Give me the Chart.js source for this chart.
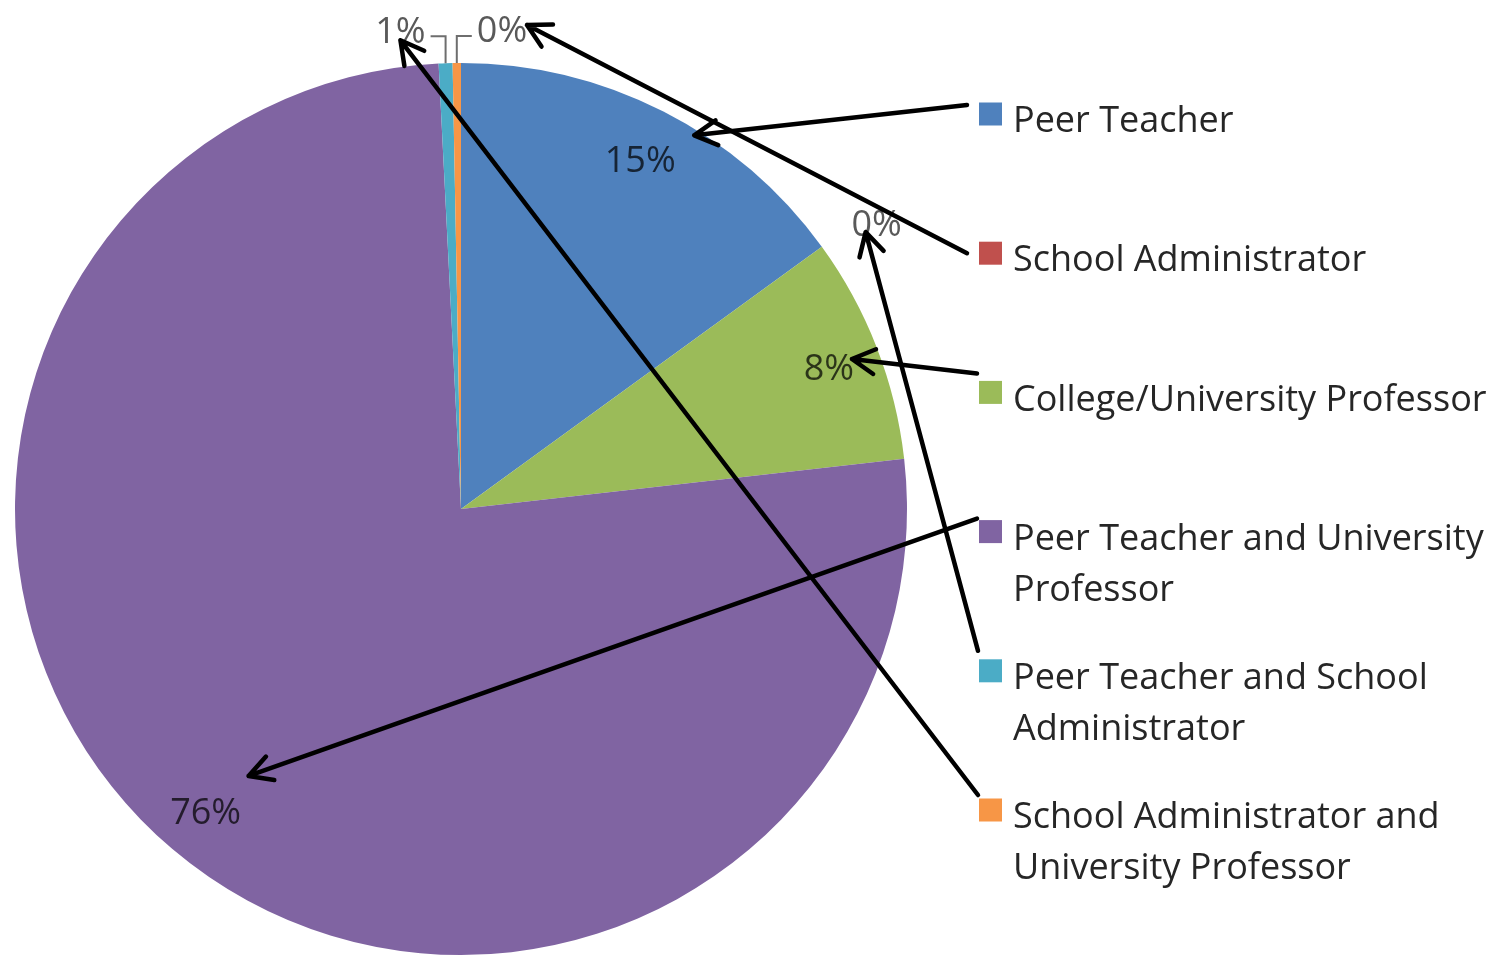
<!DOCTYPE html>
<html>
<head>
<meta charset="utf-8">
<script src="https://cdn.jsdelivr.net/npm/chart.js@4.4.1/dist/chart.umd.min.js"></script>
<style>
  html, body { margin: 0; padding: 0; background: #fff; overflow: hidden; }
  canvas { display: block; }
</style>
</head>
<body>
<canvas id="mentorChart" width="1510" height="956"></canvas>
<script>
// who supported the respondents (share of answers, in %)
const categories = [
  'Peer Teacher',
  'School Administrator',
  'College/University Professor',
  'Peer Teacher and University Professor',
  'Peer Teacher and School Administrator',
  'School Administrator and University Professor'
];
const shares = [15.0, 0, 8.2, 76.0, 0.5, 0.3];
const sliceColors = ['#4F81BD', '#C0504D', '#9BBB59', '#8064A2', '#4BACC6', '#F79646'];

// black pointers drawn over the chart: legend entry -> slice label
// tail = offset from the legend square, tip = offset from the label centre
const pointers = [
  { from: 0, to: 0, tail: [-12, -9],  tip: [54, -22] },
  { from: 1, to: 5, tail: [-12, 0],   tip: [25, -3] },
  { from: 2, to: 2, tail: [-2, -19],  tip: [23, -7] },
  { from: 3, to: 3, tail: [-2, -13],  tip: [43, -34] },
  { from: 4, to: 1, tail: [-1, -20],  tip: [-11, 10] },
  { from: 5, to: 4, tail: [-1, -15],  tip: [0, 12] }
];

const FONT = '36px "Open Sans", "Noto Sans", sans-serif';
const TEXT_DY = 4; // 'middle' sits a little high for this font

function wrapWords(ctx, text, maxWidth) {
  const words = text.split(' ');
  const lines = [];
  let line = '';
  words.forEach(w => {
    const test = line ? line + ' ' + w : w;
    if (line && ctx.measureText(test).width > maxWidth) {
      lines.push(line);
      line = w;
    } else {
      line = test;
    }
  });
  lines.push(line);
  return lines;
}

function drawArrow(ctx, x1, y1, x2, y2) {
  const ang = Math.atan2(y2 - y1, x2 - x1);
  const head = 26, spread = 0.5;
  ctx.beginPath();
  ctx.moveTo(x1, y1);
  ctx.lineTo(x2, y2);
  ctx.moveTo(x2 - head * Math.cos(ang - spread), y2 - head * Math.sin(ang - spread));
  ctx.lineTo(x2, y2);
  ctx.lineTo(x2 - head * Math.cos(ang + spread), y2 - head * Math.sin(ang + spread));
  ctx.stroke();
}

// percent labels, legend on the right and the pointers
const overlayPlugin = {
  id: 'overlay',
  afterDatasetsDraw(chart) {
    const ctx = chart.ctx;
    const meta = chart.getDatasetMeta(0);
    const labelCenters = [];
    let topCount = 0;

    ctx.save();
    ctx.font = FONT;
    ctx.textBaseline = 'middle';

    meta.data.forEach((arc, i) => {
      const { x, y, startAngle, endAngle, outerRadius } =
        arc.getProps(['x', 'y', 'startAngle', 'endAngle', 'outerRadius'], true);
      const mid = (startAngle + endAngle) / 2;
      const text = Math.round(shares[i]) + '%';
      const w = ctx.measureText(text).width;
      const cos = Math.cos(mid), sin = Math.sin(mid);

      if (shares[i] >= 2) {
        // inside the slice
        const r = outerRadius * 0.885;
        const cx = x + r * cos, cy = y + r * sin;
        ctx.fillStyle = 'rgba(0,0,0,0.72)';
        ctx.textAlign = 'center';
        ctx.fillText(text, cx, cy + TEXT_DY);
        labelCenters[i] = [cx, cy];
      } else if (Math.abs(cos) < 0.1) {
        // thin slices at the top: elbow leader, labels pushed to either side
        const side = topCount === 0 ? -1 : 1;
        topCount++;
        const ax = x + outerRadius * cos, ay = y + outerRadius * sin;
        const ly = ay - 27;
        ctx.strokeStyle = '#6e6e6e';
        ctx.lineWidth = 2;
        ctx.beginPath();
        ctx.moveTo(ax, ay);
        ctx.lineTo(ax, ly);
        ctx.lineTo(ax + side * 15, ly);
        ctx.stroke();
        const cx = ax + side * (15 + 5 + w / 2), cy = ay - 35;
        ctx.fillStyle = '#595959';
        ctx.textAlign = 'center';
        ctx.fillText(text, cx, cy + TEXT_DY);
        labelCenters[i] = [cx, cy];
      } else {
        // empty slice elsewhere: label just outside the rim
        const r = outerRadius * 1.06;
        const px = x + r * cos, py = y + r * sin;
        const cx = px + Math.sign(cos) * (8 + w / 2), cy = py - 9;
        ctx.fillStyle = '#595959';
        ctx.textAlign = 'center';
        ctx.fillText(text, cx, cy + TEXT_DY);
        labelCenters[i] = [cx, cy];
      }
    });

    // legend
    const area = chart.chartArea;
    const boxX = area.right + 72, box = 23, firstY = 114, step = 139.2, lineH = 51;
    const textX = boxX + 34, maxW = chart.width - textX - 6;
    const boxes = [];
    ctx.textAlign = 'left';
    categories.forEach((name, i) => {
      const by = firstY + i * step;
      ctx.fillStyle = sliceColors[i];
      ctx.fillRect(boxX, by - box / 2, box, box);
      ctx.fillStyle = '#262626';
      wrapWords(ctx, name, maxW).forEach((line, k) => {
        ctx.fillText(line, textX, by + 4 + TEXT_DY + k * lineH);
      });
      boxes[i] = [boxX, by];
    });

    // pointers
    ctx.strokeStyle = '#000';
    ctx.lineWidth = 4.5;
    ctx.lineCap = 'round';
    ctx.lineJoin = 'round';
    pointers.forEach(p => {
      const [bx, by] = boxes[p.from];
      const [lx, ly] = labelCenters[p.to];
      drawArrow(ctx, bx + p.tail[0], by + p.tail[1], lx + p.tip[0], ly + p.tip[1]);
    });
    ctx.restore();
  }
};

new Chart(document.getElementById('mentorChart'), {
  type: 'pie',
  data: {
    labels: categories,
    datasets: [{
      data: shares,
      backgroundColor: sliceColors,
      borderWidth: 0,
      hoverOffset: 0,
      offset: 0
    }]
  },
  options: {
    responsive: false,
    animation: false,
    radius: 446,
    layout: { padding: { left: 15, right: 603, top: 63, bottom: 1 } },
    plugins: {
      legend: { display: false },
      tooltip: { enabled: false }
    }
  },
  plugins: [overlayPlugin]
});
</script>
</body>
</html>
